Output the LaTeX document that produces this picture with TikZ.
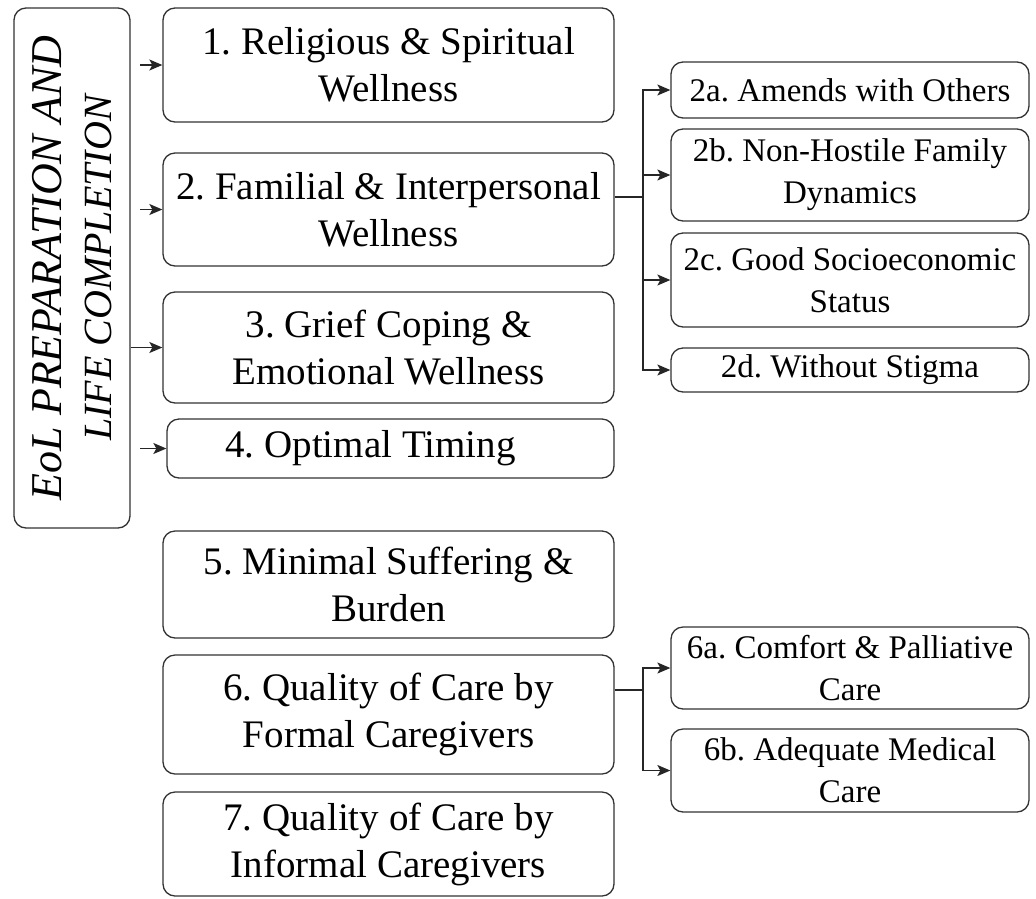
\documentclass[tikz,border=0pt]{standalone}
\usepackage{fontspec}
\setmainfont{Liberation Serif}
\usetikzlibrary{arrows.meta}
\frenchspacing
\begin{document}
\begin{tikzpicture}[x=1pt,y=-1pt,
  box/.style={draw=black!80, line width=1.3pt, rounded corners=12pt, align=center,
    inner sep=0pt, font=\fontsize{39}{47}\selectfont, text=black},
  mainbox/.style={box, minimum width=451pt},
  subbox/.style={box, minimum width=358pt, font=\fontsize{33}{42}\selectfont},
  arr/.style={draw=black!85, line width=1.3pt, -{Stealth[length=13pt,width=11pt,inset=3pt]}},
  ln/.style={draw=black!85, line width=1.3pt}]
\useasboundingbox (0,0) rectangle (1036,898);

% left title box
\node[box, rotate=90, minimum width=520pt, minimum height=116pt,
      font=\fontsize{44}{50}\selectfont\itshape] (eol) at (72,268)
  {EoL PREPARATION AND\\{\fontsize{40}{50}\selectfont LIFE COMPLETION}};

% main boxes
\node[mainbox, minimum height=114pt] (b1) at (388.5,65) {1. Religious \& Spiritual\\Wellness};
\node[mainbox, minimum height=113pt] (b2) at (388.5,209.5) {2. Familial \& Interpersonal\\Wellness};
\node[mainbox, minimum height=111pt] (b3) at (388.5,347.5) {3. Grief Coping \&\\Emotional Wellness};
\node[box, minimum width=447pt, minimum height=59pt] (b4) at (390.5,448.5) {4. Optimal Timing\hspace*{40pt}};
\node[mainbox, minimum height=107pt] (b5) at (388.5,584.5) {5. Minimal Suffering \&\\Burden};
\node[mainbox, minimum height=119pt] (b6) at (388.5,714.5) {6. Quality of Care by\\Formal Caregivers};
\node[mainbox, minimum height=104pt] (b7) at (388.5,844) {7. Quality of Care by\\Informal Caregivers};

% sub boxes
\node[subbox, minimum height=56pt] (s2a) at (850,90) {2a. Amends with Others};
\node[subbox, minimum height=92pt] (s2b) at (850,175) {2b. Non-Hostile Family\\Dynamics};
\node[subbox, minimum height=94pt] (s2c) at (850,280) {2c. Good Socioeconomic\\Status};
\node[subbox, minimum height=44pt] (s2d) at (850,370) {2d. Without Stigma};
\node[subbox, minimum height=82pt] (s6a) at (850,668) {6a. Comfort \& Palliative\\Care};
\node[subbox, minimum height=83pt] (s6b) at (850,770.5) {6b. Adequate Medical\\Care};

% arrows from the title box
\coordinate (a1) at (140,65);
\coordinate (a2) at (140,209.5);
\coordinate (a4) at (140,448.5);
\draw[arr] (a1) -- (b1.west);
\draw[arr] (a2) -- (b2.west);
\draw[arr] (eol.south |- b3.west) -- (b3.west);
\draw[arr] (a4) -- (b4.west);

% branch of box 2
\coordinate (j2) at (643,197);
\draw[ln] (b2.east |- j2) -- (j2);
\draw[arr] (j2) |- (s2a.west);
\draw[arr] (j2) |- (s2b.west);
\draw[arr] (j2) |- (s2c.west);
\draw[arr] (j2) |- (s2d.west);

% branch of box 6
\coordinate (j6) at (643,690);
\draw[ln] (b6.east |- j6) -- (j6);
\draw[arr] (j6) |- (s6a.west);
\draw[arr] (j6) |- (s6b.west);
\end{tikzpicture}
\end{document}
